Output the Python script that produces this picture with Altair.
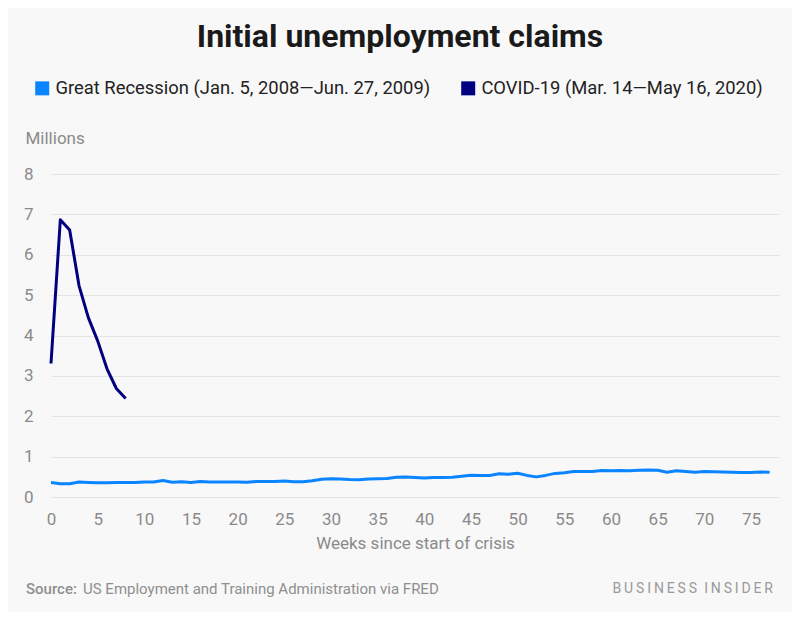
import altair as alt
import pandas as pd

weeks_rec = list(range(78))
great_recession = [
    0.360, 0.330, 0.328, 0.372, 0.362, 0.356, 0.355, 0.362, 0.358, 0.362,
    0.372, 0.372, 0.410, 0.365, 0.378, 0.360, 0.382, 0.372, 0.374, 0.370,
    0.372, 0.365, 0.385, 0.384, 0.386, 0.395, 0.375, 0.380, 0.405, 0.440,
    0.450, 0.445, 0.432, 0.430, 0.447, 0.452, 0.460, 0.490, 0.495, 0.480,
    0.468, 0.482, 0.485, 0.492, 0.515, 0.540, 0.535, 0.535, 0.575, 0.562,
    0.590, 0.535, 0.498, 0.535, 0.585, 0.600, 0.630, 0.632, 0.630, 0.655,
    0.652, 0.655, 0.652, 0.665, 0.670, 0.662, 0.615, 0.648, 0.630, 0.612,
    0.632, 0.624, 0.618, 0.616, 0.605, 0.608, 0.620, 0.610,
]
weeks_covid = list(range(9))
covid = [3.307, 6.867, 6.615, 5.237, 4.442, 3.867, 3.176, 2.687, 2.438]

series_names = [
    "Great Recession (Jan. 5, 2008\u2014Jun. 27, 2009)",
    "COVID-19 (Mar. 14\u2014May 16, 2020)",
]
series_colors = ["#0a84ff", "#000080"]

x_ticks = list(range(0, 80, 5))
y_ticks = list(range(0, 9))

df = pd.DataFrame(
    {"week": weeks_rec, "value": great_recession, "series": series_names[0]}
)
df = pd.concat(
    [df, pd.DataFrame({"week": weeks_covid, "value": covid, "series": series_names[1]})],
    ignore_index=True,
)

FONT = "Roboto"
GRAY = "#8a8a8a"

lines = alt.Chart(df).mark_line(strokeWidth=3, strokeJoin="round").encode(
    x=alt.X(
        "week:Q",
        scale=alt.Scale(domain=[0, 78], nice=False, zero=False),
        axis=alt.Axis(
            values=x_ticks,
            title="Weeks since start of crisis",
            grid=False,
            domain=False,
            ticks=False,
            labelFontSize=17,
            labelColor=GRAY,
            labelFont=FONT,
            labelPadding=14,
            labelFlush=False,
            titleFontSize=17,
            titleColor=GRAY,
            titleFont=FONT,
            titleFontWeight="normal",
            titlePadding=8,
        ),
    ),
    y=alt.Y(
        "value:Q",
        scale=alt.Scale(domain=[0, 8], nice=False),
        axis=alt.Axis(
            values=y_ticks,
            title="Millions",
            titleAngle=0,
            titleAlign="left",
            titleBaseline="middle",
            titleX=-26,
            titleY=-36,
            titleFontSize=17,
            titleColor=GRAY,
            titleFont=FONT,
            titleFontWeight="normal",
            grid=True,
            gridColor="#e4e4e4",
            gridWidth=1,
            domain=False,
            ticks=False,
            labelFontSize=17,
            labelColor=GRAY,
            labelFont=FONT,
            labelPadding=18,
            labelAlign="right",
        ),
    ),
    color=alt.Color(
        "series:N",
        scale=alt.Scale(domain=series_names, range=series_colors),
        sort=series_names,
        legend=alt.Legend(
            title=None,
            orient="none",
            legendX=-18,
            legendY=-95,
            direction="horizontal",
            symbolType="square",
            symbolSize=49,
            symbolStrokeWidth=7,
            labelFontSize=18.4,
            labelFont=FONT,
            labelColor="#222222",
            labelOffset=4,
            columnPadding=19,
            labelLimit=500,
        ),
    ),
)

title = alt.Chart(pd.DataFrame({"t": ["Initial unemployment claims"]})).mark_text(
    align="center", baseline="middle", font=FONT, fontSize=32, fontWeight="bold", color="#1a1a1a"
).encode(text="t:N", x=alt.value(349), y=alt.value(-137))

src_bold = alt.Chart(pd.DataFrame({"t": ["Source:"]})).mark_text(
    align="left", baseline="middle", font=FONT, fontSize=15, fontWeight=500, color="#8f8f8f"
).encode(text="t:N", x=alt.value(-25), y=alt.value(415))

src_rest = alt.Chart(pd.DataFrame({"t": ["US Employment and Training Administration via FRED"]})).mark_text(
    align="left", baseline="middle", font=FONT, fontSize=15, color="#8f8f8f"
).encode(text="t:N", x=alt.value(32), y=alt.value(415))

brand = alt.Chart(pd.DataFrame({"t": ["B\u2009U\u2009S\u2009I\u2009N\u2009E\u2009S\u2009S\u2002I\u2009N\u2009S\u2009I\u2009D\u2009E\u2009R"]})).mark_text(
    align="right", baseline="middle", font=FONT, fontSize=14, color="#9a9a9a"
).encode(text="t:N", x=alt.value(722), y=alt.value(415))

chart = (
    alt.layer(lines, title, src_bold, src_rest, brand)
    .properties(
        width=728,
        height=323,
        autosize=alt.AutoSizeParams(type="none"),
        padding={"left": 43, "top": 166, "right": 13, "bottom": 115},
        background="#f8f8f8",
    )
    .configure_view(stroke=None)
)

chart.save("out.html", embed_options={"renderer": "svg", "actions": False})
